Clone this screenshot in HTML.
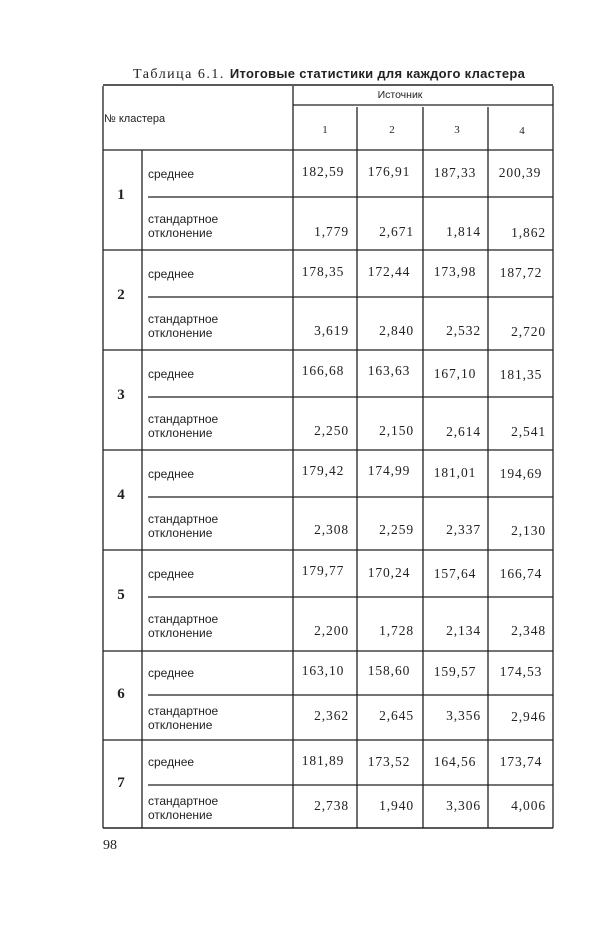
<!DOCTYPE html>
<html><head><meta charset="utf-8"><style>
html,body{margin:0;padding:0;background:#fff;}
svg{display:block}
.s{font-family:"Liberation Serif",serif;fill:#222}
.l{font-family:"Liberation Sans",sans-serif;font-size:12px;fill:#222}
.n{font-family:"Liberation Serif",serif;font-size:13.5px;letter-spacing:0.9px;fill:#222}
</style></head><body>
<svg width="600" height="927" viewBox="0 0 600 927">
<g stroke="#222" stroke-width="1.3" fill="none">
<line x1="103" y1="85" x2="553" y2="85" stroke-width="1.6"/>
<line x1="103" y1="86" x2="103" y2="828"/>
<line x1="553" y1="86" x2="553" y2="828"/>
<line x1="293" y1="105" x2="553" y2="105"/>
<line x1="103" y1="150" x2="553" y2="150"/>
<line x1="293" y1="86" x2="293" y2="828"/>
<line x1="357" y1="107" x2="357" y2="828"/>
<line x1="423" y1="107" x2="423" y2="828"/>
<line x1="488" y1="107" x2="488" y2="828"/>
<line x1="142" y1="150" x2="142" y2="828"/>
<line x1="148" y1="197" x2="553" y2="197"/>
<line x1="103" y1="250" x2="553" y2="250"/>
<line x1="148" y1="297" x2="553" y2="297"/>
<line x1="103" y1="350" x2="553" y2="350"/>
<line x1="148" y1="397" x2="553" y2="397"/>
<line x1="103" y1="450" x2="553" y2="450"/>
<line x1="148" y1="497" x2="553" y2="497"/>
<line x1="103" y1="550" x2="553" y2="550"/>
<line x1="148" y1="597" x2="553" y2="597"/>
<line x1="103" y1="651" x2="553" y2="651"/>
<line x1="148" y1="695" x2="553" y2="695"/>
<line x1="103" y1="740" x2="553" y2="740"/>
<line x1="148" y1="785" x2="553" y2="785"/>
<line x1="103" y1="828" x2="553" y2="828" stroke-width="1.6"/>
</g>
<text class="s" x="133" y="78" font-size="14" letter-spacing="1.5">Таблица 6.1. <tspan font-weight="bold" letter-spacing="0.3" font-family="Liberation Sans" font-size="13">Итоговые статистики для каждого кластера</tspan></text>
<text x="400" y="98" class="l" style="font-size:10.5px" text-anchor="middle">Источник</text>
<text x="104" y="122" class="l" style="font-size:11px">№ кластера</text>
<g class="s" font-size="11" text-anchor="middle"><text x="325" y="133">1</text><text x="392" y="133">2</text><text x="457" y="133">3</text><text x="522" y="134">4</text></g>

<g class="s" font-size="15" font-weight="bold" text-anchor="middle">
<text x="121" y="199">1</text><text x="121" y="299">2</text><text x="121" y="399">3</text><text x="121" y="499">4</text><text x="121" y="599">5</text><text x="121" y="698">6</text><text x="121" y="787">7</text></g>

<text class="l" x="148" y="178">среднее</text><text class="l" x="148" y="223">стандартное</text><text class="l" x="148" y="237">отклонение</text>
<text class="l" x="148" y="278">среднее</text><text class="l" x="148" y="323">стандартное</text><text class="l" x="148" y="337">отклонение</text>
<text class="l" x="148" y="378">среднее</text><text class="l" x="148" y="423">стандартное</text><text class="l" x="148" y="437">отклонение</text>
<text class="l" x="148" y="478">среднее</text><text class="l" x="148" y="523">стандартное</text><text class="l" x="148" y="537">отклонение</text>
<text class="l" x="148" y="578">среднее</text><text class="l" x="148" y="623">стандартное</text><text class="l" x="148" y="637">отклонение</text>
<text class="l" x="148" y="677">среднее</text><text class="l" x="148" y="715">стандартное</text><text class="l" x="148" y="729">отклонение</text>
<text class="l" x="148" y="766">среднее</text><text class="l" x="148" y="805">стандартное</text><text class="l" x="148" y="819">отклонение</text>

<g text-anchor="middle">
<text class="n" x="323" y="176">182,59</text><text class="n" x="389" y="176">176,91</text><text class="n" x="455" y="177">187,33</text><text class="n" x="520" y="177">200,39</text>
<text class="n" x="323" y="276">178,35</text><text class="n" x="389" y="276">172,44</text><text class="n" x="455" y="276">173,98</text><text class="n" x="521" y="277">187,72</text>
<text class="n" x="323" y="375">166,68</text><text class="n" x="389" y="375">163,63</text><text class="n" x="455" y="378">167,10</text><text class="n" x="521" y="379">181,35</text>
<text class="n" x="323" y="475">179,42</text><text class="n" x="389" y="475">174,99</text><text class="n" x="455" y="477">181,01</text><text class="n" x="521" y="478">194,69</text>
<text class="n" x="323" y="575">179,77</text><text class="n" x="389" y="577">170,24</text><text class="n" x="455" y="578">157,64</text><text class="n" x="521" y="578">166,74</text>
<text class="n" x="323" y="675">163,10</text><text class="n" x="389" y="675">158,60</text><text class="n" x="455" y="676">159,57</text><text class="n" x="521" y="676">174,53</text>
<text class="n" x="323" y="765">181,89</text><text class="n" x="389" y="766">173,52</text><text class="n" x="455" y="766">164,56</text><text class="n" x="521" y="766">173,74</text>
</g>
<g text-anchor="end">
<text class="n" x="349" y="236">1,779</text><text class="n" x="414" y="236">2,671</text><text class="n" x="481" y="236">1,814</text><text class="n" x="546" y="237">1,862</text>
<text class="n" x="349" y="335">3,619</text><text class="n" x="414" y="335">2,840</text><text class="n" x="481" y="335">2,532</text><text class="n" x="546" y="336">2,720</text>
<text class="n" x="349" y="435">2,250</text><text class="n" x="414" y="435">2,150</text><text class="n" x="481" y="436">2,614</text><text class="n" x="546" y="436">2,541</text>
<text class="n" x="349" y="534">2,308</text><text class="n" x="414" y="534">2,259</text><text class="n" x="481" y="534">2,337</text><text class="n" x="546" y="535">2,130</text>
<text class="n" x="349" y="635">2,200</text><text class="n" x="414" y="635">1,728</text><text class="n" x="481" y="635">2,134</text><text class="n" x="546" y="635">2,348</text>
<text class="n" x="349" y="720">2,362</text><text class="n" x="414" y="720">2,645</text><text class="n" x="481" y="720">3,356</text><text class="n" x="546" y="721">2,946</text>
<text class="n" x="349" y="810">2,738</text><text class="n" x="414" y="810">1,940</text><text class="n" x="481" y="810">3,306</text><text class="n" x="546" y="810">4,006</text>
</g>
<text class="s" x="103" y="849" font-size="14">98</text>
</svg>
</body></html>
